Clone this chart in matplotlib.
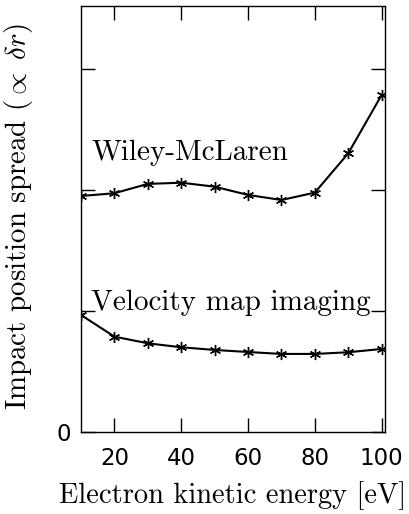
import matplotlib
matplotlib.use("Agg")
import matplotlib.pyplot as plt

energy = [10, 20, 30, 40, 50, 60, 70, 80, 90, 100]
wiley_mclaren = [1.950, 1.973, 2.050, 2.060, 2.027, 1.959, 1.917, 1.978, 2.303, 2.785]
velocity_map = [0.967, 0.788, 0.733, 0.700, 0.678, 0.661, 0.645, 0.645, 0.659, 0.686]
xticks = [20, 40, 60, 80, 100]
yticks = [0, 1, 2, 3]
ytick_labels = ["0", "", "", ""]

plt.rcParams['mathtext.fontset'] = 'cm'
plt.rcParams['axes.unicode_minus'] = False

fig = plt.figure(figsize=(4.09, 5.14), dpi=100)
ax = fig.add_axes([81/409, (514-432)/514, (385-81)/409, (432-6)/514])

marker = (6, 2, 0)
for ys in (wiley_mclaren, velocity_map):
    ax.plot(energy, ys, color='black', lw=1.5, marker=marker, markersize=8,
            markeredgewidth=1.0)

ax.set_xlim(10, 101)
ax.set_ylim(0, 3.52)
ax.set_xticks(xticks)
ax.set_yticks(yticks)
ax.set_yticklabels(ytick_labels)
ax.tick_params(direction='in', top=True, right=True, length=10, width=1,
               labelsize=16.5, pad=11)
ax.tick_params(axis='y', pad=7)
for s in ax.spines.values():
    s.set_linewidth(1)

ax.text(13.1, 2.25, "Wiley-McLaren", fontsize=21, family='cmr10')
ax.text(13.1, 1.008, "Velocity map imaging", fontsize=21, family='cmr10')

ax.set_xlabel("Electron kinetic energy [eV]", fontsize=20.5, family='cmr10', labelpad=8)
ax.set_ylabel(r"Impact position spread (${\propto}\;\delta r$)", fontsize=20.8, family='cmr10')
ax.yaxis.set_label_coords(-0.15, 0.505)

fig.savefig("out.png", dpi=100)
